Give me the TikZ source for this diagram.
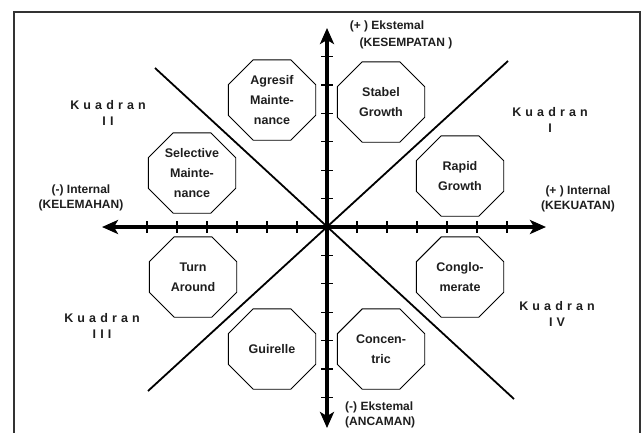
\documentclass[tikz,border=0pt]{standalone}
\usepackage{fontspec}
\setmainfont{Liberation Sans}
\newfontfamily\kfont[LetterSpace=33]{Liberation Sans}
\usetikzlibrary{arrows.meta}
\definecolor{txt}{HTML}{1E1E1E}
\begin{document}
\begin{tikzpicture}[x=1pt,y=-1pt,
  octbox/.style={rectangle, minimum width=87pt, minimum height=80pt, inner sep=0pt,
    align=center, font=\bfseries\fontsize{12.5}{20}\selectfont, text=txt},
  octline/.style={line width=0.9pt, line join=miter},
  lab/.style={font=\bfseries\fontsize{12}{15}\selectfont, text=txt, align=center, inner sep=0pt},
  kua/.style={font=\kfont\bfseries\fontsize{12.5}{16}\selectfont, text=txt, align=center, inner sep=0pt},
  axis/.style={line width=4pt, {Stealth[length=16pt,width=14pt,inset=4pt]}-{Stealth[length=16pt,width=14pt,inset=4pt]}},
  diag/.style={line width=1.8pt},
  tickmark/.style={line width=1.3pt},
  frame/.style={line width=2pt, draw=black!80}]
\useasboundingbox (0,0) rectangle (642,432);
% frame
\coordinate (f1) at (14,440);
\coordinate (f2) at (14,12);
\coordinate (f3) at (640,12);
\coordinate (f4) at (640,440);
\draw[frame] (f1) -- (f2) -- (f3) -- (f4);
% diagonals
\coordinate (d1a) at (155,68);
\coordinate (d1b) at (514,399);
\coordinate (d2a) at (508,61);
\coordinate (d2b) at (148,391);
\draw[diag] (d1a) -- (d1b);
\draw[diag] (d2a) -- (d2b);
% axes
\coordinate (O) at (327,227);
\coordinate (L) at (102,227);
\coordinate (R) at (546,227);
\coordinate (T) at (327,28);
\coordinate (B) at (327,428);
\draw[axis] (L) -- (R);
\draw[axis] (T) -- (B);
\foreach \k in {1,...,6} {
  \draw[tickmark] ({327+30*\k},221) -- ++(0,12);
  \draw[tickmark] ({327-30*\k},221) -- ++(0,12);
  \draw[tickmark] (321,{227+28.4*\k}) -- ++(12,0);
  \draw[tickmark] (321,{227-28.4*\k}) -- ++(12,0);
}
% strategy octagons
\node[octbox] (agr) at (272,100) {Agresif\\Mainte-\\nance};
\node[octbox] (stb) at (381,102) {Stabel\\Growth};
\node[octbox] (rap) at (460,176) {Rapid\\Growth};
\node[octbox] (sel) at (192,173) {Selective\\Mainte-\\nance};
\node[octbox] (tur) at (193,277) {Turn\\Around};
\node[octbox] (gui) at (272,349) {Guirelle};
\node[octbox] (con) at (460,277) {Conglo-\\merate};
\node[octbox] (cen) at (381,349) {Concen-\\tric};
\foreach \n in {agr,stb,rap,sel,tur,gui,con,cen} {
  \draw[octline] ([xshift=25pt]\n.north west) -- ([xshift=-25pt]\n.north east)
    -- ([yshift=-25pt]\n.north east) -- ([yshift=25pt]\n.south east)
    -- ([xshift=-25pt]\n.south east) -- ([xshift=25pt]\n.south west)
    -- ([yshift=25pt]\n.south west) -- ([yshift=-25pt]\n.north west) -- cycle;
}
% axis labels
\node[lab] (ekp1) at (387,26) {(+ ) Ekstemal};
\node[lab] (ekp2) at (406,43) {(KESEMPATAN )};
\node[lab] (intm) at (81,197.5) {(-) Internal\\(KELEMAHAN)};
\node[lab] (intp) at (578,198.5) {(+ ) Internal\\(KEKUATAN)};
\node[lab, align=left, anchor=west] (ekm) at (345,415) {(-) Ekstemal\\(ANCAMAN)};
% quadrant labels
\node[kua] (k2) at (108,113) {Kuadran\\II};
\node[kua] (k1) at (550,120) {Kuadran\\I};
\node[kua] (k3) at (102,326) {Kuadran\\III};
\node[kua] (k4) at (557,314) {Kuadran\\IV};
\end{tikzpicture}
\end{document}
